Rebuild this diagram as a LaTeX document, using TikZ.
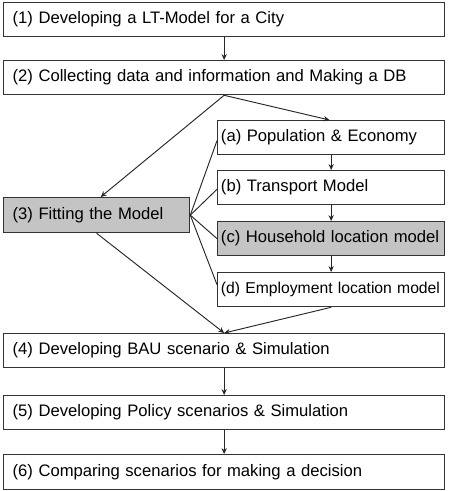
\documentclass[tikz,border=0pt]{standalone}
\usepackage{fontspec}
\setmainfont{Liberation Sans}
\usetikzlibrary{arrows.meta}

\tikzset{
	stage/.style={draw=black!80, line width=1.1pt, fill=white, anchor=north west,
		minimum height=1.02cm, align=left, inner xsep=0.27cm, text width=12.69cm,
		font=\fontsize{14.2}{16}\selectfont},
	substage/.style={stage, inner xsep=0.1cm, text width=6.61cm},
	flow/.style={draw=black!85, line width=0.8pt, -{Stealth[length=5pt,width=4.5pt]}},
	link/.style={draw=black!85, line width=0.8pt}
}

\begin{document}
\begin{tikzpicture}[x=0.03cm, y=-0.03cm]
	\useasboundingbox (0,0) rectangle (450,491);
	\node[stage] (dev) at (3,2) {(1) Developing a LT-Model for a City};
	\node[stage] (data) at (3,60) {(2) Collecting data and information and Making a DB};
	\node[substage] (pop) at (217,120) {(a) Population \& Economy};
	\node[substage] (trans) at (217,170) {(b) Transport Model};
	\node[substage, fill=black!23] (hh) at (217,221) {(c) Household location model};
	\node[substage, font=\fontsize{13.4}{16}\selectfont] (emp) at (217,272) {(d) Employment location model};
	\node[stage, fill=black!23, text width=5.04cm, minimum height=1.05cm] (fit) at (3,197) {(3) Fitting the Model};
	\node[stage] (bau) at (3,333) {(4) Developing BAU scenario \& Simulation};
	\node[stage] (pol) at (3,395) {(5) Developing Policy scenarios \& Simulation};
	\node[stage, minimum height=1.05cm] (cmp) at (3,454) {(6) Comparing scenarios for making a decision};
	% main flow
	\draw[flow] (dev) -- (data);
	\draw[flow] (data.south) -- ([xshift=0.12cm]fit.north);
	\draw[flow] (data.south) -- ([xshift=-0.05cm]pop.north);
	\draw[flow] (pop) -- (trans);
	\draw[flow] (trans) -- (hh);
	\draw[flow] (hh) -- (emp);
	% fitting each sub-model
	\draw[link] (fit.east) -- ([yshift=-0.09cm]pop.west);
	\draw[link] (fit.east) -- ([yshift=-0.05cm]trans.west);
	\draw[link] (fit.east) -- (hh.west);
	\draw[link] (fit.east) -- ([yshift=0.15cm]emp.west);
	\draw[flow] (fit.south) -- (bau.north);
	\draw[flow] (emp.south) -- (bau.north);
	\draw[flow] (bau) -- (pol);
	\draw[flow] (pol) -- (cmp);
\end{tikzpicture}
\end{document}
